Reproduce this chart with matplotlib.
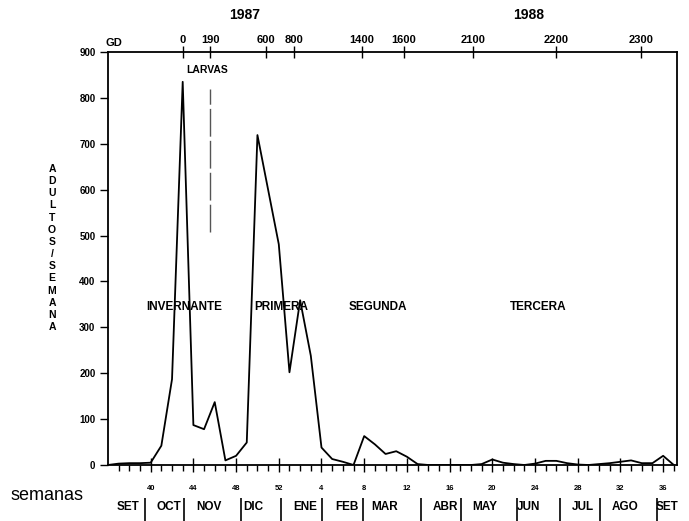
import matplotlib
matplotlib.use("Agg")
import matplotlib.pyplot as plt
import numpy as np

plt.rcParams["font.family"] = ["Liberation Sans", "DejaVu Sans"]

# semana (1987 sem. 36 -> 1988 sem. 37) y adultos capturados por semana
semanas = [36, 37, 38, 39, 40, 41, 42, 43, 44, 45, 46, 47, 48, 49, 50, 51, 52,
           1, 2, 3, 4, 5, 6, 7, 8, 9, 10, 11, 12, 13, 14, 15, 16, 17, 18, 19,
           20, 21, 22, 23, 24, 25, 26, 27, 28, 29, 30, 31, 32, 33, 34, 35, 36, 37]
adultos = [0, 3, 4, 4, 5, 42, 187, 835, 87, 78, 137, 10, 20, 49, 719, 600, 481,
           202, 359, 238, 38, 13, 7, 0, 63, 45, 24, 30, 18, 2, 0, 0, 0, 0, 0, 2,
           12, 5, 2, 0, 3, 9, 9, 4, 1, 0, 2, 4, 7, 10, 4, 4, 20, 0]

# grados-dia acumulados (eje superior) y semana en que se alcanzan
gd_labels = ["0", "190", "600", "800", "1400", "1600", "2100", "2200", "2300"]
gd_semana = [7.0, 9.6, 14.8, 17.4, 23.8, 27.7, 34.2, 42.0, 49.9]

meses = ["SET", "OCT", "NOV", "DIC", "ENE", "FEB", "MAR", "ABR", "MAY", "JUN",
         "JUL", "AGO", "SET"]
mes_pos = [1.9, 5.7, 9.5, 13.6, 18.5, 22.4, 25.9, 31.6, 35.3, 39.4, 44.5, 48.4, 52.4]
mes_limites = [3.46, 7.1, 12.43, 16.17, 20.09, 23.93, 29.35, 33.08, 38.32,
               42.34, 46.07, 51.4]

generaciones = ["INVERNANTE", "PRIMERA", "SEGUNDA", "TERCERA"]
gen_pos = [7.1, 16.2, 25.3, 40.3]

x = np.arange(len(semanas))

fig = plt.figure(figsize=(6.89, 5.21), dpi=100)
ax = fig.add_axes([0.1567, 0.1075, 0.8259, 0.7927])

ax.plot(x, adultos, color="black", lw=1.3)
ax.set_xlim(0, 53.3)
ax.set_ylim(0, 900)

for s in ax.spines.values():
    s.set_linewidth(1.3)

# eje y
ax.set_yticks(range(0, 1000, 100))
ax.set_yticklabels([str(v) for v in range(0, 1000, 100)], fontsize=7,
                   fontweight="bold")
ax.tick_params(axis="y", direction="out", length=6, width=1, pad=3)

# eje x inferior: semanas
major = [i for i in range(len(semanas)) if i % 4 == 0 and i > 0 and i < 53]
ax.set_xticks(major)
ax.set_xticklabels([])
ax.set_xticks(range(1, 54), minor=True)
ax.tick_params(axis="x", which="major", direction="inout", length=10, width=1)
ax.tick_params(axis="x", which="minor", direction="out", length=4.5, width=1)

xt = ax.get_xaxis_transform()
for i in major:
    ax.text(i, -0.058, str(semanas[i]), transform=xt, ha="center", va="center",
            fontsize=5.5, fontweight="bold")
for m, p in zip(meses, mes_pos):
    ax.text(p, -0.102, m, transform=xt, ha="center", va="center",
            fontsize=8.5, fontweight="bold")
ax.vlines(mes_limites, -0.080, -0.14, transform=xt, colors="black", lw=1.2,
          clip_on=False)
fig.text(0.068, 0.048, "semanas", ha="center", va="center", fontsize=13)

# eje superior: grados-dia
ax2 = ax.twiny()
ax2.set_xlim(ax.get_xlim())
ax2.set_xticks(gd_semana)
ax2.set_xticklabels(gd_labels, fontsize=8, fontweight="bold")
ax2.tick_params(axis="x", direction="inout", length=8.6, width=1, pad=1)
for s in ax2.spines.values():
    s.set_visible(False)
ax.text(0.56, 1.022, "GD", transform=xt, ha="center", va="center",
        fontsize=8, fontweight="bold")
ax.text(12.8, 1.09, "1987", transform=xt, ha="center", va="center",
        fontsize=10, fontweight="bold")
ax.text(39.4, 1.09, "1988", transform=xt, ha="center", va="center",
        fontsize=10, fontweight="bold")

# larvas
ax.plot([gd_semana[1], gd_semana[1]], [508, 820], color="#555555", lw=1,
        linestyle=(0, (20, 3)))
ax.text(9.3, 860, "LARVAS", ha="center", va="center", fontsize=7.5,
        fontweight="bold")

for g, p in zip(generaciones, gen_pos):
    ax.text(p, 344, g, ha="center", va="center", fontsize=8.5, fontweight="bold")

# etiqueta vertical del eje y
letras = "ADULTOS/SEMANA"
ys = np.linspace(1 - 169 / 521, 1 - 327 / 521, len(letras))
for c, yy in zip(letras, ys):
    fig.text(0.0755, yy, c, ha="center", va="center", fontsize=7.5,
             fontweight="bold")

fig.savefig("out.png", dpi=100)
